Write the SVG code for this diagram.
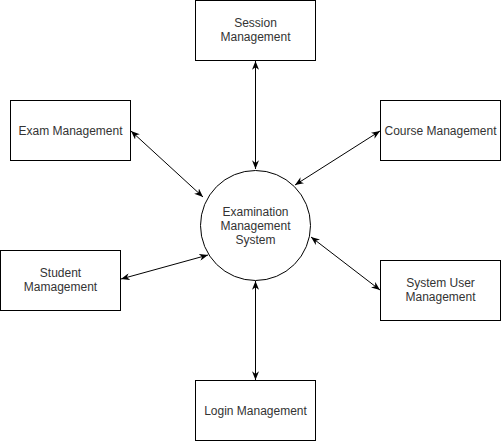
<svg xmlns="http://www.w3.org/2000/svg" width="501" height="441" viewBox="0 0 501 441">
<style>
.box{fill:#fff;stroke:#000;stroke-width:1}
.t{font-family:"Liberation Sans",Arial,sans-serif;font-size:12px;fill:#333;text-anchor:middle}
.c{fill:none;stroke:#000;stroke-width:1;marker-start:url(#ah);marker-end:url(#ah)}
</style>
<defs>
<marker id="ah" viewBox="0 0 10 8" refX="10" refY="4" markerWidth="9" markerHeight="7" markerUnits="userSpaceOnUse" orient="auto-start-reverse">
<path d="M0,0 L10,4 L0,8 L3,4 Z" fill="#000"/>
</marker>
</defs>
<rect width="501" height="441" fill="#fff"/>
<g id="connectors">
<line class="c" x1="255.5" y1="61" x2="255.5" y2="169"/>
<line class="c" x1="255.5" y1="380" x2="255.5" y2="281"/>
<line class="c" x1="131" y1="131" x2="203" y2="197"/>
<line class="c" x1="380" y1="131" x2="295" y2="185"/>
<line class="c" x1="121" y1="279" x2="208" y2="255"/>
<line class="c" x1="380" y1="290" x2="311" y2="237"/>
</g>
<g id="center">
<circle class="box" cx="255.5" cy="225.5" r="55"/>
<text class="t" x="255.5" y="216">Examination</text>
<text class="t" x="255.5" y="230">Management</text>
<text class="t" x="255.5" y="244">System</text>
</g>
<g id="session">
<rect class="box" x="195.5" y="0.5" width="120" height="60"/>
<text class="t" x="255.5" y="27">Session</text>
<text class="t" x="255.5" y="41">Management</text>
</g>
<g id="exam">
<rect class="box" x="10.5" y="100.5" width="120" height="60"/>
<text class="t" x="70.5" y="134.5">Exam Management</text>
</g>
<g id="course">
<rect class="box" x="380.5" y="100.5" width="120" height="60"/>
<text class="t" x="440.5" y="134.5">Course Management</text>
</g>
<g id="student">
<rect class="box" x="0.5" y="250.5" width="120" height="60"/>
<text class="t" x="60.5" y="277">Student</text>
<text class="t" x="60.5" y="291">Mamagement</text>
</g>
<g id="sysuser">
<rect class="box" x="380.5" y="260.5" width="120" height="60"/>
<text class="t" x="440.5" y="287">System User</text>
<text class="t" x="440.5" y="301">Management</text>
</g>
<g id="login">
<rect class="box" x="195.5" y="380.5" width="120" height="60"/>
<text class="t" x="255.5" y="414.5">Login Management</text>
</g>
</svg>
